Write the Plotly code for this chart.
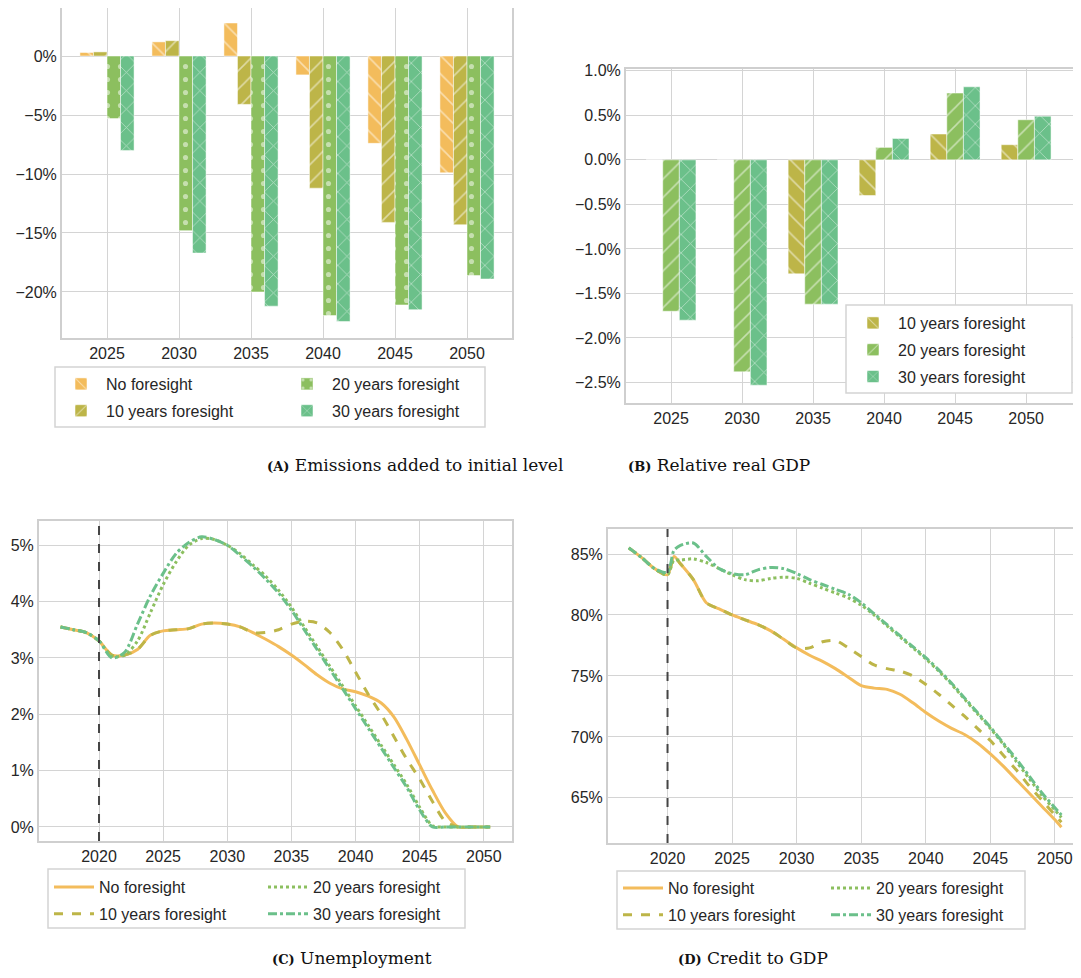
import plotly.graph_objects as go

W, H = 1081, 978
OFF = 8  # page body margin
bar_years = [2025, 2030, 2035, 2040, 2045, 2050]
names = ["No foresight", "10 years foresight", "20 years foresight", "30 years foresight"]

emis_no = [0.3, 1.2, 2.8, -1.6, -7.4, -9.9]
emis_10 = [0.35, 1.3, -4.1, -11.2, -14.1, -14.3]
emis_20 = [-5.3, -14.8, -20.0, -22.0, -21.1, -18.6]
emis_30 = [-8.0, -16.7, -21.2, -22.5, -21.5, -18.9]

gdp_10 = [0.0, 0.0, -1.28, -0.40, 0.29, 0.17]
gdp_20 = [-1.70, -2.38, -1.62, 0.14, 0.75, 0.45]
gdp_30 = [-1.80, -2.53, -1.62, 0.24, 0.82, 0.49]

line_years = [2017, 2018, 2019, 2020, 2021, 2022, 2023, 2024, 2025, 2026, 2027, 2028, 2029, 2030,
              2031, 2032, 2033, 2034, 2035, 2036, 2037, 2038, 2039, 2040, 2041, 2042, 2043, 2044,
              2045, 2046, 2047, 2048, 2049, 2050, 2050.5]
unemp_no = [3.55, 3.50, 3.45, 3.30, 3.05, 3.05, 3.15, 3.40, 3.48, 3.50, 3.52, 3.60, 3.62, 3.60,
            3.55, 3.45, 3.33, 3.20, 3.05, 2.88, 2.70, 2.55, 2.45, 2.40, 2.32, 2.20, 1.95, 1.55,
            1.10, 0.65, 0.25, 0.0, 0.0, 0.0, 0.0]
unemp_10 = [3.55, 3.50, 3.45, 3.30, 3.05, 3.05, 3.15, 3.40, 3.48, 3.50, 3.52, 3.60, 3.62, 3.60,
            3.55, 3.45, 3.45, 3.50, 3.60, 3.65, 3.62, 3.45, 3.15, 2.75, 2.35, 2.00, 1.60, 1.20,
            0.85, 0.45, 0.10, 0.0, 0.0, 0.0, 0.0]
unemp_20 = [3.55, 3.50, 3.45, 3.30, 3.03, 3.05, 3.30, 3.80, 4.30, 4.70, 5.00, 5.12, 5.10, 5.00,
            4.85, 4.65, 4.45, 4.20, 3.90, 3.55, 3.20, 2.85, 2.50, 2.15, 1.80, 1.45, 1.10, 0.75,
            0.35, 0.02, 0.0, 0.0, 0.0, 0.0, 0.0]
unemp_30 = [3.55, 3.50, 3.45, 3.30, 3.00, 3.10, 3.60, 4.10, 4.50, 4.85, 5.05, 5.15, 5.10, 5.00,
            4.82, 4.62, 4.40, 4.15, 3.85, 3.50, 3.15, 2.80, 2.45, 2.10, 1.75, 1.40, 1.05, 0.70,
            0.30, 0.0, 0.0, 0.0, 0.0, 0.0, 0.0]

credit_years = [2017, 2018, 2019, 2020, 2020.5, 2021, 2022, 2023, 2024, 2025, 2026, 2027, 2028, 2029,
                2030, 2031, 2032, 2033, 2034, 2035, 2036, 2037, 2038, 2039, 2040, 2041, 2042, 2043,
                2044, 2045, 2046, 2047, 2048, 2049, 2050, 2050.5]
credit_no = [85.5, 84.7, 83.8, 83.3, 84.8, 84.2, 82.9, 81.0, 80.5, 80.0, 79.6, 79.2, 78.7, 78.0,
             77.3, 76.7, 76.2, 75.6, 74.9, 74.2, 74.0, 73.9, 73.5, 72.8, 72.0, 71.3, 70.7, 70.2,
             69.5, 68.6, 67.6, 66.5, 65.4, 64.3, 63.2, 62.6]
credit_10 = [85.5, 84.7, 83.8, 83.3, 84.8, 84.2, 82.9, 81.0, 80.5, 80.0, 79.6, 79.2, 78.7, 78.0,
             77.3, 77.3, 77.8, 77.9, 77.3, 76.6, 75.9, 75.6, 75.4, 75.0, 74.3, 73.5, 72.6, 71.7,
             70.7, 69.7, 68.5, 67.3, 66.0, 64.8, 63.6, 63.0]
credit_20 = [85.5, 84.7, 83.8, 83.3, 84.5, 84.5, 84.6, 84.3, 83.8, 83.3, 82.9, 82.8, 83.0, 83.1,
             83.0, 82.6, 82.2, 81.8, 81.4, 80.8, 80.0, 79.1, 78.2, 77.3, 76.4, 75.4, 74.3, 73.1,
             71.9, 70.7, 69.4, 68.0, 66.6, 65.2, 64.0, 63.4]
credit_30 = [85.5, 84.7, 83.8, 83.5, 85.3, 85.7, 85.9, 84.8, 83.8, 83.4, 83.3, 83.7, 83.9, 83.8,
             83.4, 82.9, 82.5, 82.1, 81.7, 81.0, 80.1, 79.2, 78.3, 77.4, 76.5, 75.5, 74.4, 73.2,
             72.0, 70.8, 69.5, 68.2, 66.8, 65.4, 64.2, 63.6]

colors = ["#F3BC5C", "#BDB548", "#8CBF5F", "#6BC08A"]
FONT = "Liberation Sans"
FW, FH = W - 2 * OFF, H - 2 * OFF


def px_x(x):
    return (x - OFF) / FW


def px_y(y):
    return 1 - (y - OFF) / FH


fig = go.Figure()

# legend columns: left column No/10, right column 20/30
colA = {0: "legend", 1: "legend", 2: "legend5", 3: "legend5"}
colC = {0: "legend3", 1: "legend3", 2: "legend6", 3: "legend6"}
colD = {0: "legend4", 1: "legend4", 2: "legend7", 3: "legend7"}

BW_A = 0.94
pat_a = ["\\", "/", ".", "x"]
emis = [emis_no, emis_10, emis_20, emis_30]
for i in range(4):
    fig.add_trace(go.Bar(x=bar_years, y=emis[i], name=names[i], legend=colA[i], legendgroup=f"a{i}",
                         width=BW_A, offset=(i - 2) * BW_A,
                         marker=dict(color=colors[i], line=dict(color="white", width=0.5),
                                     pattern=dict(shape=pat_a[i], fgcolor="white", size=13, solidity=0.12)),
                         xaxis="x", yaxis="y"))

BW_B = 1.17
pat_b = ["\\", "/", "x"]
for j, vals in enumerate([gdp_10, gdp_20, gdp_30]):
    fig.add_trace(go.Bar(x=bar_years, y=vals, name=names[j + 1], legend="legend2", legendgroup=f"b{j}",
                         width=BW_B, offset=(j - 1.5) * BW_B,
                         marker=dict(color=colors[j + 1], line=dict(color="white", width=0.5),
                                     pattern=dict(shape=pat_b[j], fgcolor="white", size=13, solidity=0.12)),
                         xaxis="x2", yaxis="y2"))

dashes = ["solid", "dash", "dot", "dashdot"]
unemp = [unemp_no, unemp_10, unemp_20, unemp_30]
credit = [credit_no, credit_10, credit_20, credit_30]
for i in range(4):
    fig.add_trace(go.Scatter(x=line_years, y=unemp[i], mode="lines", name=names[i], legend=colC[i],
                             legendgroup=f"c{i}",
                             line=dict(color=colors[i], width=3, dash=dashes[i], shape="spline", smoothing=0.8),
                             xaxis="x3", yaxis="y3"))
for i in range(4):
    fig.add_trace(go.Scatter(x=credit_years, y=credit[i], mode="lines", name=names[i], legend=colD[i],
                             legendgroup=f"d{i}",
                             line=dict(color=colors[i], width=3, dash=dashes[i], shape="spline", smoothing=0.8),
                             xaxis="x4", yaxis="y4"))

axis_common = dict(showgrid=True, gridcolor="#d4d4d4", gridwidth=1.2, showline=True, mirror=True,
                   linecolor="#cfcfcf", linewidth=2, zeroline=False, ticks="",
                   tickfont=dict(family=FONT, size=16, color="#262626"))


def dom(x0, x1, y0, y1):
    return [max(0, px_x(x0)), min(1, px_x(x1))], [max(0, px_y(y1)), min(1, px_y(y0))]


ax, ay = dom(62, 512, 8, 338)
bx, by = dom(626, 1073, 69, 403)
cx, cy = dom(39, 512, 521, 841)
dx, dy = dom(608, 1073, 529, 843)

fig.update_layout(
    width=FW, height=FH, margin=dict(l=0, r=0, t=0, b=0, autoexpand=False),
    paper_bgcolor="white", plot_bgcolor="white",
    font=dict(family=FONT, size=15, color="#262626"),
    xaxis=dict(domain=ax, range=[2021.875, 2053.125], tickvals=bar_years, anchor="y", **axis_common),
    yaxis=dict(domain=ay, range=[-23.9, 4.07], tickvals=[0, -5, -10, -15, -20],
               ticktext=["0%", "−5%", "−10%", "−15%", "−20%"], anchor="x", **axis_common),
    xaxis2=dict(domain=bx, range=[2021.83, 2053.3], tickvals=bar_years, anchor="y2", **axis_common),
    yaxis2=dict(domain=by, range=[-2.73, 1.02], tickvals=[1, 0.5, 0, -0.5, -1, -1.5, -2, -2.5],
                ticktext=["1.0%", "0.5%", "0.0%", "−0.5%", "−1.0%", "−1.5%", "−2.0%", "−2.5%"],
                anchor="x2", **axis_common),
    xaxis3=dict(domain=cx, range=[2015.32, 2052.2], tickvals=[2020, 2025, 2030, 2035, 2040, 2045, 2050],
                anchor="y3", **axis_common),
    yaxis3=dict(domain=cy, range=[-0.25, 5.43], tickvals=[0, 1, 2, 3, 4, 5],
                ticktext=["0%", "1%", "2%", "3%", "4%", "5%"], anchor="x3", **axis_common),
    xaxis4=dict(domain=dx, range=[2015.39, 2051.4], tickvals=[2020, 2025, 2030, 2035, 2040, 2045, 2050],
                anchor="y4", **axis_common),
    yaxis4=dict(domain=dy, range=[61.3, 87.05], tickvals=[65, 70, 75, 80, 85],
                ticktext=["65%", "70%", "75%", "80%", "85%"], anchor="x4", **axis_common),
)

leg_plain = dict(bgcolor="rgba(0,0,0,0)", borderwidth=0, tracegroupgap=3, itemwidth=40,
                 font=dict(family=FONT, size=16, color="#262626"), xref="paper", yref="paper",
                 xanchor="left", yanchor="top", orientation="v")
fig.update_layout(
    legend=dict(x=px_x(56), y=px_y(367), **leg_plain),
    legend5=dict(x=px_x(282), y=px_y(367), **leg_plain),
    legend2=dict(x=px_x(848), y=px_y(306), **leg_plain),
    legend3=dict(x=px_x(49), y=px_y(870), **leg_plain),
    legend6=dict(x=px_x(263), y=px_y(870), **leg_plain),
    legend4=dict(x=px_x(618), y=px_y(871), **leg_plain),
    legend7=dict(x=px_x(826), y=px_y(871), **leg_plain),
)

# legend frames
for x0, y0, x1, y1 in [(55, 367, 485, 427), (846, 305, 1072, 393), (48, 869, 465, 928), (617, 871, 1025, 929)]:
    fig.add_shape(type="rect", xref="paper", yref="paper", x0=px_x(x0), x1=px_x(x1), y0=px_y(y1), y1=px_y(y0),
                  line=dict(color="#d4d4d4", width=1.5), fillcolor="white", layer="above")

for xr, yr in [("x3", "y3 domain"), ("x4", "y4 domain")]:
    fig.add_shape(type="line", xref=xr, yref=yr, x0=2020, x1=2020, y0=0, y1=1,
                  line=dict(color="#444444", width=2, dash="dash"))

SERIF = "DejaVu Serif"
captions = [
    (265, 465, "middle", "<b>(A)</b>", "Emissions added to initial level"),
    (812, 465, "middle", "<b>(B)</b>", "Relative real GDP"),
    (270, 970, "bottom", "<b>(C)</b>", "Unemployment"),
    (830, 970, "bottom", "<b>(D)</b>", "Credit to GDP"),
]
for cxp, cyp, ya, lab, txt in captions:
    fig.add_annotation(x=px_x(cxp), y=px_y(cyp), xref="paper", yref="paper", showarrow=False, yanchor=ya,
                       text=f"<span style='font-size:13px'>{lab}</span> {txt}",
                       font=dict(family=SERIF, size=17, color="#111111"))

fig.write_html("out.html")
